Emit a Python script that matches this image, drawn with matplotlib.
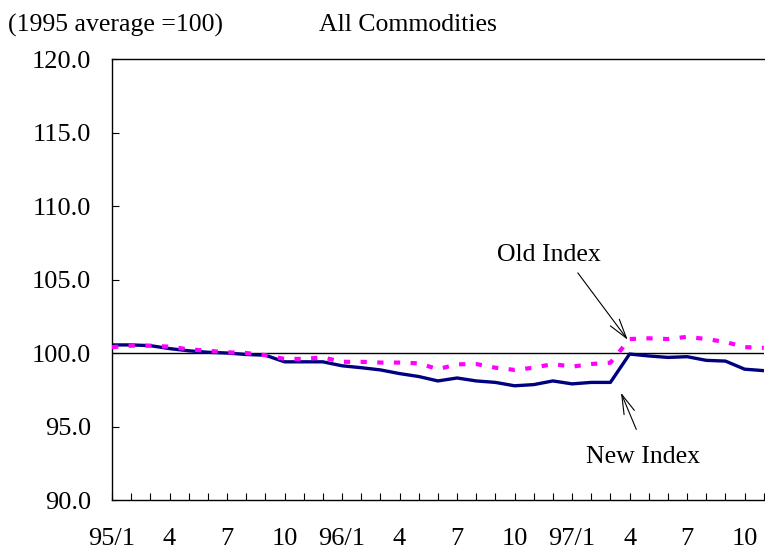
import matplotlib.pyplot as plt
import numpy as np

# monthly data, 95/1 .. 97/11 (1995 average = 100)
months = ['95/1', '2', '3', '4', '5', '6', '7', '8', '9', '10', '11', '12',
          '96/1', '2', '3', '4', '5', '6', '7', '8', '9', '10', '11', '12',
          '97/1', '2', '3', '4', '5', '6', '7', '8', '9', '10', '11']
new_index = [100.55, 100.55, 100.5, 100.3, 100.15, 100.05, 100.0, 99.9, 99.85, 99.4,
             99.4, 99.4, 99.13, 99.0, 98.85, 98.6, 98.4, 98.1, 98.3, 98.1,
             98.0, 97.77, 97.85, 98.1, 97.9, 98.0, 98.0, 99.93, 99.8, 99.7,
             99.75, 99.5, 99.45, 98.9, 98.8]
old_index = [100.4, 100.5, 100.5, 100.43, 100.25, 100.15, 100.05, 100.0, 99.85, 99.6,
             99.6, 99.7, 99.4, 99.4, 99.35, 99.35, 99.3, 98.9, 99.23, 99.25,
             99.0, 98.85, 99.0, 99.25, 99.07, 99.25, 99.34, 100.95, 101.0, 100.95,
             101.1, 100.95, 100.75, 100.4, 100.35]
tick_labels = ['95/1', '4', '7', '10', '96/1', '4', '7', '10', '97/1', '4', '7', '10']

plt.rcParams['font.family'] = ['Liberation Serif', 'DejaVu Serif']

fig = plt.figure(figsize=(7.65, 5.52), dpi=100)
ax = fig.add_axes([0.1464, 0.0942, 0.852, 0.7989])

x = np.arange(len(months))
ax.axhline(100, color='black', linewidth=1.0, zorder=1)
ax.plot(x, new_index, color='#000080', linewidth=2.4, zorder=2)
ax.plot(x, old_index, color='#FF00FF', linewidth=3, linestyle=(0, (1.5, 2.5)), zorder=3)

ax.set_xlim(0, 34)
ax.set_ylim(90, 120)
yt = np.arange(90, 121, 5)
ax.set_yticks(yt)
ax.set_yticklabels(['%.1f' % v for v in yt], fontsize=19)
ax.set_xticks(x[::3])
ax.set_xticklabels(tick_labels, fontsize=19)
ax.set_xticks(x, minor=True)
ax.tick_params(axis='x', which='both', direction='in', length=5, width=0.8, pad=20)
ax.tick_params(axis='y', direction='in', length=5, width=0.8, pad=15)
ax.spines['right'].set_visible(False)
for s in ['left', 'bottom', 'top']:
    ax.spines[s].set_linewidth(1.0)

fig.text(0.010, 0.954, '(1995 average =100)', fontsize=18.5, va='center')
fig.text(0.533, 0.954, 'All Commodities', fontsize=18.5, va='center', ha='center')

arrow = dict(arrowstyle='->, head_length=0.7, head_width=0.2', color='black', lw=0.8,
             shrinkA=0, shrinkB=0, mutation_scale=20)
ax.text(22.8, 106.65, 'Old Index', fontsize=18.5, ha='center', va='center')
ax.annotate('', xy=(26.9, 100.9), xytext=(24.3, 105.45), arrowprops=arrow)
ax.text(27.7, 92.9, 'New Index', fontsize=18.5, ha='center', va='center')
ax.annotate('', xy=(26.55, 97.3), xytext=(27.35, 94.8), arrowprops=arrow)

plt.savefig('out.png', dpi=100)
